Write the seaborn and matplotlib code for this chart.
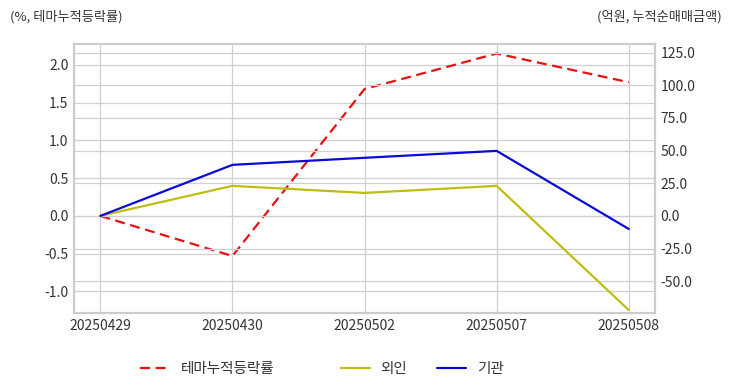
import numpy as np
import pandas as pd
import seaborn as sns
import matplotlib.pyplot as plt
from matplotlib.ticker import FormatStrFormatter, MultipleLocator
from matplotlib.lines import Line2D

# data
dates = ['20250429', '20250430', '20250502', '20250507', '20250508']
theme_pct = [0.0, -0.53, 1.68, 2.15, 1.77]      # 테마누적등락률 (%)
foreign = [0.0, 23.0, 17.6, 23.0, -72.1]         # 외인 (억원)
institution = [0.0, 39.1, 44.5, 49.8, -10.0]     # 기관 (억원)

df = pd.DataFrame({'date': dates, 'theme': theme_pct,
                   'foreign': foreign, 'inst': institution})

sns.set_theme(style='whitegrid')
plt.rcParams['font.family'] = ['Noto Sans CJK KR', 'DejaVu Sans']
plt.rcParams['axes.unicode_minus'] = False

fig = plt.figure(figsize=(7.32, 3.92), dpi=100)
ax = fig.add_axes([0.101, 0.2015, 0.794, 0.687])
ax2 = ax.twinx()

red, olive, blue = '#e81010', '#bdbd14', '#0a0ad8'
dash = (0, (4.5, 2.5))

sns.lineplot(data=df, x='date', y='theme', ax=ax, color=red, linewidth=1.6,
             linestyle=dash, sort=False)
sns.lineplot(data=df, x='date', y='foreign', ax=ax2, color=olive, linewidth=1.6, sort=False)
sns.lineplot(data=df, x='date', y='inst', ax=ax2, color=blue, linewidth=1.6, sort=False)

ax.set_xlim(-0.2, 4.2)
ax.set_ylim(-1.285, 2.28)
ax2.set_ylim(-74.4, 131.9)
ax.yaxis.set_major_locator(MultipleLocator(0.5))
ax.yaxis.set_major_formatter(FormatStrFormatter('%.1f'))
ax2.yaxis.set_major_locator(MultipleLocator(25))
ax2.yaxis.set_major_formatter(FormatStrFormatter('%.1f'))

for a in (ax, ax2):
    a.set_xlabel('')
    a.set_ylabel('')
    a.tick_params(axis='both', labelsize=10, colors='#333333', length=0, pad=4)
    for s in a.spines.values():
        s.set_color('#cccccc')
        s.set_linewidth(1.5)
    a.grid(True, color='#d0d0d0', linewidth=0.9)
ax2.grid(True, axis='y', color='#d0d0d0', linewidth=0.9)
ax2.grid(False, axis='x')

fig.text(0.014, 0.958, '(%, 테마누적등락률)', fontsize=9.5, color='#333333', va='center')
fig.text(0.986, 0.958, '(억원, 누적순매매금액)', fontsize=9.5, color='#333333',
         va='center', ha='right')

h1 = [Line2D([], [], color=red, linewidth=1.6, linestyle=dash)]
h2 = [Line2D([], [], color=olive, linewidth=1.6), Line2D([], [], color=blue, linewidth=1.6)]
leg1 = fig.legend(h1, ['테마누적등락률'], loc='center', bbox_to_anchor=(0.283, 0.058),
                  frameon=False, fontsize=10.5, handlelength=2.0, handletextpad=0.75)
leg2 = fig.legend(h2, ['외인', '기관'], loc='center', bbox_to_anchor=(0.5765, 0.058),
                  frameon=False, fontsize=10.5, ncol=2, handlelength=2.0,
                  handletextpad=0.75, columnspacing=2.0)
for leg in (leg1, leg2):
    for t in leg.get_texts():
        t.set_color('#333333')

fig.savefig('out.png', dpi=100)
